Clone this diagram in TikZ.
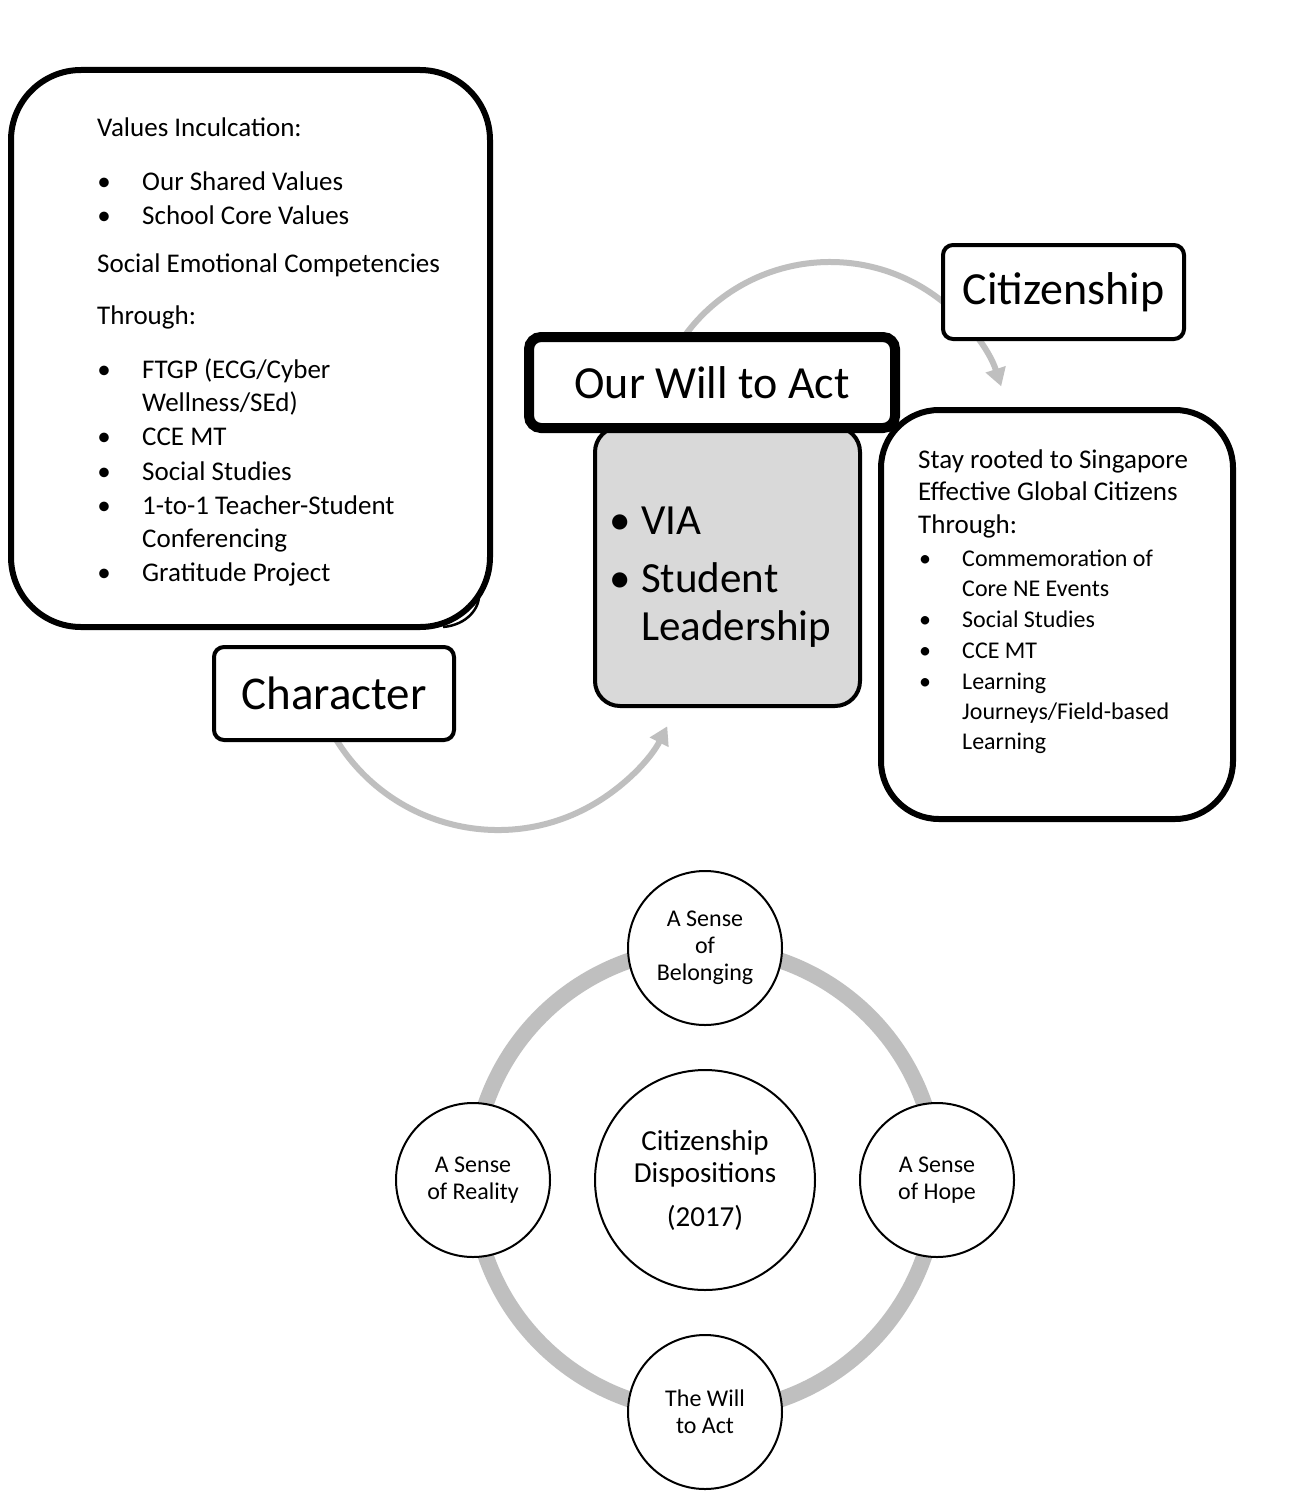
\documentclass[tikz,border=0pt]{standalone}
\usepackage{fontspec}
\setmainfont{Carlito}
\usetikzlibrary{arrows.meta}
\definecolor{arcgray}{HTML}{BFBFBF}
\definecolor{boxgray}{HTML}{D9D9D9}
\tikzset{
  box/.style={draw=black, fill=white, rectangle, inner sep=0pt},
  flow/.style={draw=arcgray, line width=6pt, -{Triangle[length=18pt,width=20pt,fill=arcgray]}},
  tl/.style={anchor=base west, inner sep=0pt, font=\fontsize{27}{32}\selectfont},
  ts/.style={anchor=base west, inner sep=0pt, font=\fontsize{24}{29}\selectfont},
  bl/.style={anchor=base, inner sep=0pt, font=\fontsize{27}{32}\selectfont},
  bs/.style={anchor=base, inner sep=0pt, font=\fontsize{24}{29}\selectfont},
  tg/.style={anchor=base west, inner sep=0pt, font=\fontsize{43}{48}\selectfont},
  bg/.style={anchor=base, inner sep=0pt, font=\fontsize{43}{48}\selectfont},
  disk/.style={circle, draw=black, fill=white, line width=2pt, inner sep=0pt, align=center, font=\fontsize{24}{27}\selectfont},
}
\begin{document}
\begin{tikzpicture}[x=1pt,y=-1pt]
\useasboundingbox (0,0) rectangle (1300,1512);
\fill[white] (0,0) rectangle (1300,1512);

% ---------- arcs ----------
\coordinate (c1) at (498,640);
\coordinate (c2) at (830,442);
\draw[flow] (c1) ++(150:190) arc[start angle=150, end angle=27, radius=190];
\draw[flow] (c2) ++(215:180) arc[start angle=215, end angle=342, radius=180];

% ---------- left box ----------
\draw[line width=2.5pt, fill=white] (479,594) .. controls (480,608) and (467,625) .. (443,627);
\node[box, line width=6pt, rounded corners=70pt, minimum width=479pt, minimum height=557pt] (left) at (250.5,348.5) {};

\node[tl] (l1) at (97,136) {Values Inculcation:};
\node[bl] (b1) at (104,190) {\textbullet}; \node[tl] (l2) at (142,190) {Our Shared Values};
\node[bl] (b2) at (104,224) {\textbullet}; \node[tl] (l3) at (142,224) {School Core Values};
\node[tl] (l4) at (97,272) {Social Emotional Competencies};
\node[tl] (l5) at (97,324) {Through:};
\node[bl] (b3) at (104,378) {\textbullet}; \node[tl] (l6) at (142,378) {FTGP (ECG/Cyber};
\node[tl] (l7) at (142,411) {Wellness/SEd)};
\node[bl] (b4) at (104,445) {\textbullet}; \node[tl] (l8) at (142,445) {CCE MT};
\node[bl] (b5) at (104,480) {\textbullet}; \node[tl] (l9) at (142,480) {Social Studies};
\node[bl] (b6) at (104,514) {\textbullet}; \node[tl] (l10) at (142,514) {1-to-1 Teacher-Student};
\node[tl] (l11) at (142,547) {Conferencing};
\node[bl] (b7) at (104,581) {\textbullet}; \node[tl] (l12) at (142,581) {Gratitude Project};

% ---------- character ----------
\node[box, line width=4pt, rounded corners=10pt, minimum width=240pt, minimum height=93pt, font=\fontsize{47}{52}\selectfont] (char) at (334,693.5) {Character};

% ---------- gray box ----------
\node[box, fill=boxgray, line width=4pt, rounded corners=25pt, minimum width=265pt, minimum height=279pt] (gray) at (727.5,566.5) {};
\node[bg] (g1) at (620,534) {\textbullet}; \node[tg] (g2) at (641,534) {VIA};
\node[bg] (g3) at (620,592) {\textbullet}; \node[tg] (g4) at (641,592) {Student};
\node[tg] (g5) at (641,640) {Leadership};

% ---------- right box ----------
\node[box, line width=6pt, rounded corners=58pt, minimum width=352pt, minimum height=409pt] (right) at (1057,614.5) {};
\node[tl] (r1) at (918,468) {Stay rooted to Singapore};
\node[tl] (r2) at (918,500) {Effective Global Citizens};
\node[tl] (r3) at (918,533) {Through:};
\node[bs] (rb1) at (925,566) {\textbullet}; \node[ts] (r4) at (962,566) {Commemoration of};
\node[ts] (r5) at (962,596) {Core NE Events};
\node[bs] (rb2) at (925,627) {\textbullet}; \node[ts] (r6) at (962,627) {Social Studies};
\node[bs] (rb3) at (925,658) {\textbullet}; \node[ts] (r7) at (962,658) {CCE MT};
\node[bs] (rb4) at (925,689) {\textbullet}; \node[ts] (r8) at (962,689) {Learning};
\node[ts] (r9) at (962,719) {Journeys/Field-based};
\node[ts] (r10) at (962,749) {Learning};

% ---------- will box ----------
\node[box, line width=10pt, rounded corners=12pt, minimum width=366pt, minimum height=91pt, font=\fontsize{46}{52}\selectfont] (will) at (712,382.5) {Our Will to Act};

% ---------- citizenship ----------
\node[box, line width=4pt, rounded corners=10pt, minimum width=241pt, minimum height=94pt, font=\fontsize{46}{52}\selectfont] (citi) at (1063.5,292) {Citizenship};

% ---------- bottom cycle ----------
\coordinate (hub) at (705,1180);
\draw[arcgray, line width=16pt] (hub) circle[radius=232];
\node[disk, minimum size=220pt, font=\fontsize{29}{32}\selectfont] (core) at (hub) {Citizenship\\Dispositions\\[12pt](2017)};
\node[disk, minimum size=154pt] (top) at (705,948) {A Sense\\of\\Belonging};
\node[disk, minimum size=154pt] (east) at (937,1180) {A Sense\\of Hope};
\node[disk, minimum size=154pt] (south) at (705,1412) {The Will\\to Act};
\node[disk, minimum size=154pt] (west) at (473,1180) {A Sense\\of Reality};
\end{tikzpicture}
\end{document}
